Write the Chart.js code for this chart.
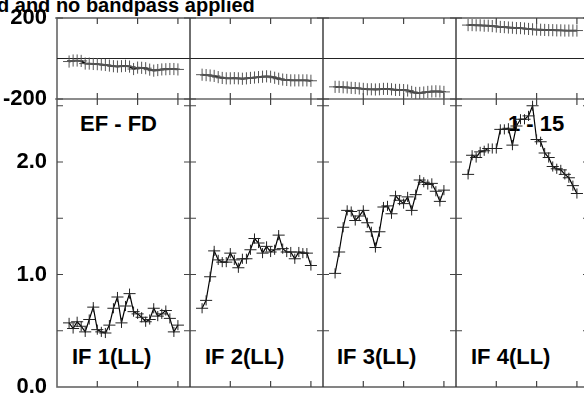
<!DOCTYPE html>
<html>
<head>
<meta charset="utf-8">
<script src="https://cdn.jsdelivr.net/npm/chart.js@4/dist/chart.umd.min.js"></script>
<style>
html, body { margin:0; padding:0; background:#fff; overflow:hidden; width:584px; height:395px; }
#wrap { position:absolute; left:0; top:-3px; width:600px; height:411px; z-index:1; }
.lbl { position:absolute; font-family:'Liberation Sans', Arial, sans-serif; font-weight:bold;
       font-size:22px; line-height:22px; color:#000; white-space:nowrap; }
#title { font-size:20px; line-height:20px; left:-3px; top:-5px; }
</style>
</head>
<body>

<div class="lbl" id="title">d and no bandpass applied</div>
<div class="lbl" style="left:80px;top:113px">EF - FD</div>
<div class="lbl" style="left:508px;top:113px">1 - 15</div>
<div class="lbl" style="left:72px;top:346px">IF 1(LL)</div>
<div class="lbl" style="left:205px;top:346px">IF 2(LL)</div>
<div class="lbl" style="left:337px;top:346px">IF 3(LL)</div>
<div class="lbl" style="left:471px;top:346px">IF 4(LL)</div>

<div id="wrap"><canvas id="possm"></canvas></div>

<script>
/* ==========================================================
   DATA
========================================================== */

const channels = [3,4,5,6,7,8,9,10,11,12,13,14,15,16,17,18,19,20,21,22,23,24,25,26,27,28,29,30];

const phaseIF1 = [-15,-10,-10,-12,-25,-25,-27,-28,-30,-32,-35,-38,-40,-38,-36,-40,-52,-45,-46,-48,-55,-60,-57,-54,-53,-52,-52,-54];
const phaseIF2 = [-80,-82,-84,-86,-92,-96,-98,-98,-97,-98,-100,-98,-96,-94,-92,-90,-88,-90,-95,-100,-104,-106,-108,-108,-108,-108,-108,-110];
const phaseIF3 = [-140,-140,-142,-143,-145,-146,-148,-150,-152,-152,-153,-152,-150,-150,-152,-155,-155,-156,-158,-165,-170,-170,-168,-165,-163,-162,-163,-165];
const phaseIF4 = [165,165,164,164,162,162,160,158,156,155,153,152,150,150,148,146,144,143,142,141,140,140,139,139,138,138,138,138];

const ampIF1 = [0.57,0.52,0.58,0.54,0.49,0.60,0.71,0.51,0.49,0.48,0.55,0.70,0.80,0.57,0.72,0.83,0.67,0.65,0.62,0.58,0.60,0.70,0.63,0.65,0.68,0.61,0.49,0.55];
const ampIF2 = [0.70,0.77,0.98,1.21,1.13,1.11,1.11,1.19,1.13,1.06,1.14,1.14,1.22,1.32,1.28,1.19,1.25,1.20,1.22,1.35,1.23,1.20,1.20,1.14,1.20,1.19,1.19,1.08];
const ampIF3 = [1.01,1.20,1.42,1.57,1.56,1.48,1.52,1.57,1.46,1.38,1.24,1.38,1.60,1.61,1.54,1.70,1.66,1.63,1.69,1.57,1.71,1.84,1.82,1.80,1.81,1.74,1.65,1.75];
const ampIF4 = [1.89,2.06,2.04,2.09,2.10,2.12,2.12,2.12,2.29,2.29,2.30,2.15,2.32,2.38,2.38,2.41,2.50,2.20,2.18,2.08,2.04,1.96,1.94,1.93,1.89,1.86,1.79,1.72];

const phaseErr = 30;
const ampErr = 0.045;

const phaseTicks = [-200, 200];
const ampTicks = [0, 1, 2];
const ampMinorTicks = [0.5, 1, 1.5, 2, 2.5];
const chanTicks = [10, 20, 30];


/* ==========================================================
   PANEL SETUP
========================================================== */

const ifWidth = 33;      // channels per IF panel on the shared x axis
const nIF = 4;
const chanHalf = 1.5;    // half width of the channel bar

function toPoints(k, values){
    return channels.map((c, i) => ({ x: k * ifWidth + c, y: values[i] }));
}

const phaseSets = [phaseIF1, phaseIF2, phaseIF3, phaseIF4].map((v, k) => ({
    data: toPoints(k, v), yAxisID: "phase", err: phaseErr, errColor: "#555", borderWidth: 1.8
}));

const ampSets = [ampIF1, ampIF2, ampIF3, ampIF4].map((v, k) => ({
    data: toPoints(k, v), yAxisID: "amp", err: ampErr, errColor: "#222"
}));


/* ==========================================================
   FRAME + TICKS
========================================================== */

const framePlugin = {
    id: "frame",
    beforeDatasetsDraw(chart){
        const ctx = chart.ctx;
        const xs = chart.scales.x, ph = chart.scales.phase, am = chart.scales.amp;
        const L = xs.getPixelForValue(0), R = xs.getPixelForValue(ifWidth * nIF);
        const top = ph.getPixelForValue(200), mid = ph.getPixelForValue(-200), bot = am.getPixelForValue(0);
        const t = 6;

        ctx.save();

        // outer frame and row split
        ctx.strokeStyle = "#666";
        ctx.lineWidth = 1.6;
        ctx.strokeRect(L, top, R - L, bot - top);
        ctx.beginPath();
        ctx.moveTo(L, mid); ctx.lineTo(R, mid);
        ctx.stroke();

        // phase zero line
        ctx.strokeStyle = "#222";
        ctx.lineWidth = 1;
        const z = ph.getPixelForValue(0);
        ctx.beginPath();
        ctx.moveTo(L, z); ctx.lineTo(R, z);
        ctx.stroke();

        // IF separators
        ctx.strokeStyle = "#333";
        ctx.lineWidth = 1.4;
        ctx.beginPath();
        for(let k = 1; k < nIF; k++){
            const px = xs.getPixelForValue(k * ifWidth);
            ctx.moveTo(px, top); ctx.lineTo(px, bot);
        }
        ctx.stroke();

        // tick marks
        ctx.strokeStyle = "#444";
        ctx.lineWidth = 1.2;
        ctx.beginPath();
        for(let k = 0; k < nIF; k++){
            chanTicks.forEach(c => {
                const px = xs.getPixelForValue(k * ifWidth + c);
                ctx.moveTo(px, top); ctx.lineTo(px, top + t);
                ctx.moveTo(px, mid - t); ctx.lineTo(px, mid + t);
                ctx.moveTo(px, bot); ctx.lineTo(px, bot - t);
            });
            const pl = xs.getPixelForValue(k * ifWidth);
            const pr = xs.getPixelForValue((k + 1) * ifWidth);
            ampMinorTicks.forEach(v => {
                const py = am.getPixelForValue(v);
                ctx.moveTo(pl, py); ctx.lineTo(pl + t, py);
                ctx.moveTo(pr, py); ctx.lineTo(pr - t, py);
            });
            [top, mid].forEach(py => {
                ctx.moveTo(pl - 2, py); ctx.lineTo(pl + t, py);
                ctx.moveTo(pr, py); ctx.lineTo(pr - t, py);
            });
        }
        ctx.stroke();

        ctx.restore();
    },
    afterDatasetsDraw(chart){
        const ctx = chart.ctx;
        const xs = chart.scales.x;
        ctx.save();
        ctx.lineWidth = 1;
        chart.data.datasets.forEach(ds => {
            const ys = chart.scales[ds.yAxisID];
            ctx.strokeStyle = ds.errColor;
            ctx.beginPath();
            ds.data.forEach(p => {
                const px = xs.getPixelForValue(p.x);
                const py = ys.getPixelForValue(p.y);
                ctx.moveTo(px, ys.getPixelForValue(p.y - ds.err));
                ctx.lineTo(px, ys.getPixelForValue(p.y + ds.err));
                ctx.moveTo(xs.getPixelForValue(p.x - chanHalf), py);
                ctx.lineTo(xs.getPixelForValue(p.x + chanHalf), py);
            });
            ctx.stroke();
        });
        ctx.restore();
    }
};


/* ==========================================================
   CHART
========================================================== */

Chart.defaults.font.family = "'Liberation Sans', Arial, sans-serif";

const axisFont = { size: 22, weight: "bold", lineHeight: 1 };

new Chart(document.getElementById("possm").getContext("2d"), {
    type: "line",
    data: { datasets: ampSets.concat(phaseSets) },
    plugins: [framePlugin],
    options: {
        responsive: true,
        maintainAspectRatio: false,
        animation: false,
        layout: { padding: { top: 0, right: 11, bottom: 0, left: 0 } },
        plugins: { legend: { display: false }, tooltip: { enabled: false } },
        elements: {
            point: { radius: 0 },
            line: { borderWidth: 1.2, borderColor: "#000", tension: 0, fill: false }
        },
        scales: {
            x: { type: "linear", min: 0, max: ifWidth * nIF, display: false },
            amp: {
                type: "linear", position: "left", stack: "rows", stackWeight: 288,
                min: 0, max: 2.56,
                afterBuildTicks: s => { s.ticks = ampTicks.map(v => ({ value: v })); },
                afterFit: s => { s.width = 57; },
                ticks: { callback: v => v.toFixed(1), padding: 10, font: axisFont, color: "#000", autoSkip: false },
                grid: { display: false, drawTicks: false },
                border: { display: false }
            },
            phase: {
                type: "linear", position: "left", stack: "rows", stackWeight: 81,
                min: -200, max: 200,
                afterBuildTicks: s => { s.ticks = phaseTicks.map(v => ({ value: v })); },
                afterFit: s => { s.width = 57; },
                ticks: { callback: v => String(v), padding: 10, font: axisFont, color: "#000", autoSkip: false },
                grid: { display: false, drawTicks: false },
                border: { display: false }
            }
        }
    }
});
</script>
</body>
</html>
